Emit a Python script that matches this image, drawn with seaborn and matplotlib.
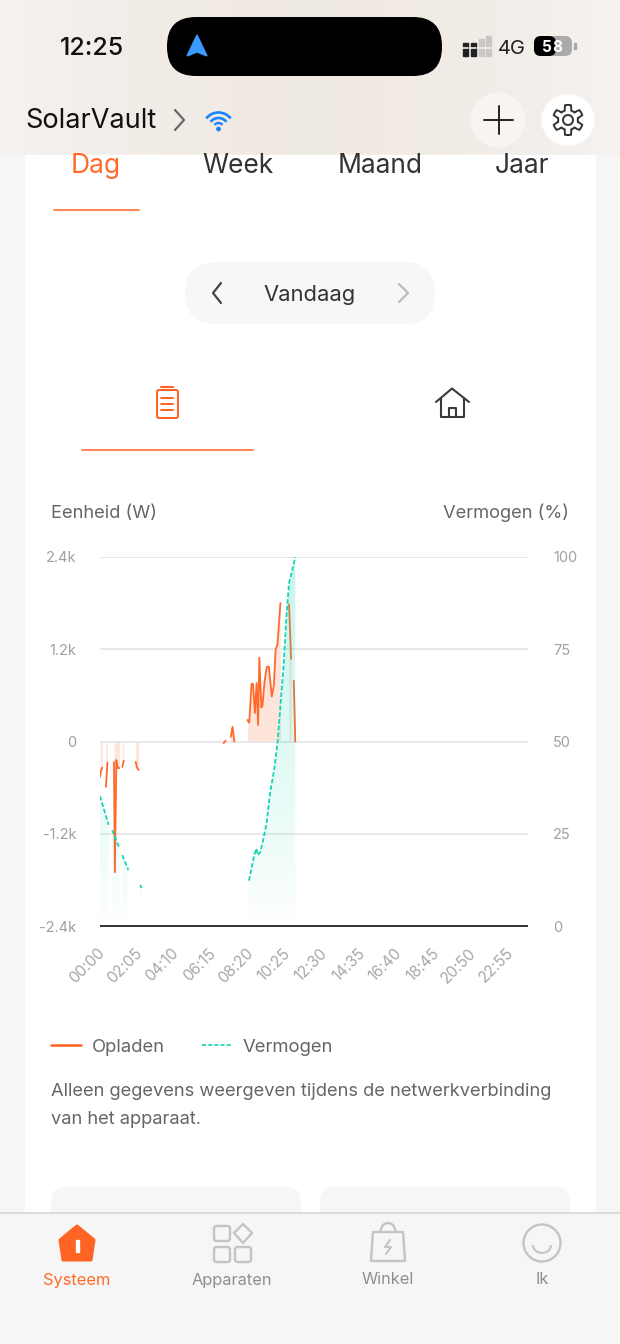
import numpy as np
import pandas as pd
import matplotlib
matplotlib.use("Agg")
import matplotlib.pyplot as plt
from matplotlib.patches import Arc, Circle, Ellipse, FancyBboxPatch, Polygon, Rectangle
from matplotlib.transforms import ScaledTranslation
import seaborn as sns

# orange line, minutes since midnight / watts, one list per unbroken piece
charge_minutes = [
    [0, 4, 8],
    [20, 25],
    [47, 50, 55, 60, 65],
    [75, 80],
    [120, 125, 130],
    [416, 423],
    [440, 446, 452],
    [496, 502, 510, 515, 521, 527, 532, 536, 543, 547, 553, 561, 568, 578, 585, 591, 597, 607],
    [636, 643],
    [652, 657],
]
charge_watts = [
    [-460, -370, -340],
    [-590, -275],
    [-270, -1700, -240, -345, -345],
    [-330, -250],
    [-265, -345, -370],
    [-20, 10],
    [60, 190, 0],
    [280, 245, 750, 750, 370, 760, 215, 1090, 440, 475, 760, 970, 975, 585, 735, 1205, 1255, 1800],
    [1785, 1075],
    [790, 0],
]
# teal line, percent on the right axis
power_minutes = [
    [0, 29],
    [41, 65],
    [75, 95],
    [135, 140],
    [501, 510, 519, 526, 531, 539, 549, 561, 572, 586, 598, 617, 628, 636, 647, 657],
]
power_percent = [
    [35.2, 27.4],
    [26, 21.2],
    [19.2, 15.2],
    [11.1, 10.3],
    [12.3, 15.7, 19.2, 21, 19.2, 20, 23.3, 28.2, 36, 42.3, 50.4, 69.9, 84.8, 93, 96.5, 100],
]
left_ticks = [-2400, -1200, 0, 1200, 2400]
left_labels = ["-2.4k", "-1.2k", "0", "1.2k", "2.4k"]
right_ticks = [0, 25, 50, 75, 100]
time_ticks = [0, 125, 250, 375, 500, 625, 750, 875, 1000, 1125, 1250, 1375]
time_labels = ["00:00", "02:05", "04:10", "06:15", "08:20", "10:25",
               "12:30", "14:35", "16:40", "18:45", "20:50", "22:55"]
tabs = ["Dag", "Week", "Maand", "Jaar"]
nav_items = ["Systeem", "Apparaten", "Winkel", "Ik"]

ORANGE = "#ff6a2b"
TEAL = "#14d6b6"
FONT = "Inter"

sns.set_theme(style="white")
plt.rcParams["font.family"] = [FONT, "DejaVu Sans"]


def long_table(xs, ys, name):
    rows = []
    for i, (x, y) in enumerate(zip(xs, ys)):
        rows.append(pd.DataFrame({"minute": x, name: y, "piece": i}))
    return pd.concat(rows, ignore_index=True)


def round_box(ax, x0, y0, x1, y1, r, **kw):
    ax.add_patch(FancyBboxPatch((x0 + r, y0 + r), x1 - x0 - 2 * r, y1 - y0 - 2 * r,
                                boxstyle=f"round,pad={r},rounding_size={r}", linewidth=kw.pop("lw", 0), **kw))


def draw_page(ax):
    ax.set_xlim(0, 620)
    ax.set_ylim(1344, 0)
    ax.axis("off")
    ax.add_patch(Rectangle((0, 0), 620, 1344, color="#f6f6f6", zorder=0))

    # header tint
    xx = np.linspace(-1, 1, 120)
    shade = np.clip(1 - np.abs(xx) ** 2, 0, 1)[None, :, None]
    tint = np.array([0.96, 0.95, 0.94])[None, None, :] * (1 - shade) + np.array([0.945, 0.918, 0.895])[None, None, :] * shade
    ax.imshow(tint, extent=(0, 620, 155, 0), aspect="auto", zorder=1)
    ax.set_xlim(0, 620)
    ax.set_ylim(1344, 0)

    ax.add_patch(Rectangle((25, 155), 570, 1060, color="white", zorder=1))

    # status bar
    ax.text(92, 48.5, "12:25", fontsize=18, color="#111111", ha="center", va="center", weight="medium")
    round_box(ax, 167, 17, 442, 76, 29, color="black", zorder=2)
    ax.add_patch(Polygon([(197, 35), (207, 56), (197, 52), (187, 56)], closed=True, color="#3a9bff", zorder=3))
    for i, x in enumerate([465, 473, 481, 488]):
        h = [13, 13, 17, 20][i]
        c = "#222222" if i < 2 else "#c9c6c3"
        ax.add_patch(Rectangle((x - 2, 56 - h), 4.5, h, color=c, zorder=3))
        ax.plot([x - 3, x + 3], [48, 48], color="#f3efeb", lw=1.2, zorder=4)
    ax.text(512, 48.5, "4G", fontsize=14.5, color="#222222", ha="center", va="center")
    round_box(ax, 534, 36, 572, 56, 7, color="#aaaaaa", zorder=2)
    round_box(ax, 534, 36, 556, 56, 7, color="black", zorder=3)
    ax.add_patch(Rectangle((574, 43), 1.5, 6, color="#aaaaaa", zorder=3))
    ax.text(547, 47, "5", fontsize=11, color="white", ha="center", va="center", weight="bold", zorder=4)
    ax.text(557, 47, "8", fontsize=11, color="white", ha="center", va="center", weight="bold", zorder=4)

    # title row
    ax.text(25, 121.5, "SolarVault", fontsize=19.5, color="#111111", va="center")
    ax.plot([175, 184, 175], [110, 120, 130], color="#666666", lw=1.6, zorder=3)
    for r, a in [(15.5, 1.9), (10, 1.9), (5, 1.7)]:
        ax.add_patch(Arc((218.5, 128), 2 * r, 2 * r, theta1=218, theta2=322, color="#1a85ff", lw=a, zorder=3))
    ax.add_patch(Circle((218.5, 129), 1.7, color="#1a85ff", zorder=3))
    ax.add_patch(Ellipse((498, 120), 54, 54, color="#f7f4f1", zorder=2))
    ax.add_patch(Ellipse((568, 120), 52, 50, color="white", zorder=2))
    ax.plot([484, 513], [120, 120], color="#222222", lw=1.4, zorder=3)
    ax.plot([498.5, 498.5], [106, 134], color="#222222", lw=1.4, zorder=3)
    angles = np.linspace(0, 2 * np.pi, 97)
    radius = 12.5 + 2.6 * np.clip(3 * np.cos(6 * angles), -1, 1)
    ax.plot(568 + radius * np.sin(angles), 120 + radius * np.cos(angles), color="#333333", lw=1.4, zorder=3)
    ax.add_patch(Circle((568, 120), 5, fill=False, edgecolor="#333333", lw=1.4, zorder=3))

    # period tabs
    for name, x in zip(tabs, [96, 238, 380, 522]):
        ax.text(x, 166, name, fontsize=19, color=ORANGE if name == "Dag" else "#333333", ha="center", va="center")
    ax.plot([54, 139], [210, 210], color="#ff7a45", lw=1.3)
    round_box(ax, 185, 262, 435, 324, 31, color="#f7f7f7", zorder=2)
    ax.text(310, 295, "Vandaag", fontsize=15.8, color="#333333", ha="center", va="center", zorder=3)
    ax.plot([221, 213, 221], [283, 293, 303], color="#444444", lw=1.6, zorder=3)
    ax.plot([399, 408, 399], [284, 293, 302], color="#bbbbbb", lw=1.6, zorder=3)

    # battery and house icons
    round_box(ax, 157, 390, 178, 418, 2, facecolor="none", edgecolor="#ff5f1f", lw=1.4, zorder=3)
    ax.plot([161, 173], [386.5, 386.5], color="#ff5f1f", lw=1.5)
    for y in [398, 404, 410]:
        ax.plot([161, 173], [y, y], color="#ff5f1f", lw=1.4)
    ax.plot([82, 253], [450, 450], color="#ff7a45", lw=1.3)
    ax.plot([436, 452, 469], [402, 388.5, 402], color="#3a3a3a", lw=1.5)
    ax.plot([441, 441, 464, 464], [398, 417, 417, 398], color="#3a3a3a", lw=1.5)
    ax.plot([449, 449, 456, 456], [417, 408, 408, 417], color="#3a3a3a", lw=1.5)

    # chart captions, legend and note
    ax.text(51, 513, "Eenheid (W)", fontsize=13.2, color="#666666", va="center")
    ax.text(569, 513, "Vermogen (%)", fontsize=13.2, color="#666666", va="center", ha="right")
    ax.plot([51, 81], [1045, 1045], color=ORANGE, lw=1.9)
    ax.text(92, 1047, "Opladen", fontsize=13.3, color="#666666", va="center")
    ax.plot([202, 232], [1045, 1045], color=TEAL, lw=1.2, ls=(0, (2.5, 1.2)))
    ax.text(243, 1047, "Vermogen", fontsize=13.3, color="#666666", va="center")
    ax.text(51, 1092, "Alleen gegevens weergeven tijdens de netwerkverbinding", fontsize=13.2, color="#666666", va="center")
    ax.text(51, 1119, "van het apparaat.", fontsize=13.2, color="#666666", va="center")
    round_box(ax, 51, 1187, 301, 1240, 14, color="#f6f6f6", zorder=2)
    round_box(ax, 320, 1187, 570, 1240, 14, color="#f6f6f6", zorder=2)

    # bottom navigation
    ax.add_patch(Rectangle((0, 1213), 620, 131, color="#f7f6f6", zorder=4))
    ax.plot([0, 620], [1213, 1213], color="#d6d6d6", lw=1.2, zorder=5)
    for name, x in zip(nav_items, [77, 232, 388, 542]):
        ax.text(x, 1280, name, fontsize=11.8, color=ORANGE if name == "Systeem" else "#8f8f8f",
                ha="center", va="center", zorder=6)
    ax.add_patch(Polygon([(77, 1226), (94, 1240), (91, 1260), (63, 1260), (60, 1240)], closed=True,
                         facecolor="#ff6422", edgecolor="#ff6422", lw=2.2, joinstyle="round", zorder=6))
    ax.add_patch(Rectangle((75.5, 1240), 3, 12, color="white", zorder=7))
    grey = "#c4c4c4"
    for x, y in [(214, 1226), (214, 1247), (235, 1247)]:
        round_box(ax, x, y, x + 16, y + 15, 2.5, facecolor="none", edgecolor=grey, lw=1.7, zorder=6)
    ax.add_patch(Polygon([(243, 1224), (252, 1233), (243, 1243), (234, 1233)], closed=True, fill=False,
                         edgecolor=grey, lw=1.7, joinstyle="round", zorder=6))
    ax.add_patch(Polygon([(373, 1232), (403, 1232), (405, 1261), (371, 1261)], closed=True, fill=False,
                         edgecolor=grey, lw=1.7, joinstyle="round", zorder=6))
    ax.add_patch(Arc((388, 1232), 15, 18, theta1=180, theta2=360, color=grey, lw=1.7, zorder=6))
    ax.plot([390, 385, 391, 386], [1240, 1247, 1247, 1254], color=grey, lw=1.5, zorder=6)
    ax.add_patch(Ellipse((542, 1243), 37, 37, fill=False, edgecolor=grey, lw=1.7, zorder=6))
    ax.add_patch(Arc((542, 1245), 18, 16, theta1=0, theta2=180, color=grey, lw=1.5, zorder=6))


def draw_chart(fig):
    # pixel box 100..528 x 557..926 of 620x1344
    ax = fig.add_axes([100 / 620, 1 - 926 / 1344, 428 / 620, 369 / 1344])
    ax.patch.set_alpha(0)
    charge = long_table(charge_minutes, charge_watts, "watts")
    power = long_table(power_minutes, power_percent, "percent")

    for x, y in zip(charge_minutes, charge_watts):
        ax.fill_between(x, 0, y, color="#fde5dc", lw=0, zorder=1)
    ax.hlines(left_ticks[1:], 0, 1440, color="#e4e4e4", lw=1.2, zorder=1.5)
    ax.hlines(left_ticks[0], 0, 1440, color="#333333", lw=1.4, zorder=1.5, clip_on=False)
    sns.lineplot(data=charge, x="minute", y="watts", units="piece", estimator=None,
                 color=ORANGE, lw=1.3, ax=ax, zorder=2)
    ax.set_xlim(0, 1440)
    ax.set_ylim(-2400, 2400)
    ax.set_xticks(time_ticks)
    ax.set_xticklabels(time_labels, rotation=45, ha="right", rotation_mode="anchor")
    ax.set_yticks(left_ticks)
    ax.set_yticklabels(left_labels)
    ax.tick_params(axis="x", length=0, pad=14, labelsize=11, labelcolor="#a8a8a8")
    ax.tick_params(axis="y", length=0, pad=17, labelsize=10.5, labelcolor="#a0a0a0")
    shift = ScaledTranslation(-3 / 100, 0, fig.dpi_scale_trans)
    for lab in ax.get_xticklabels():
        lab.set_transform(lab.get_transform() + shift)
    ax.set_xlabel("")
    ax.set_ylabel("")
    sns.despine(ax=ax, left=True, bottom=True)

    ax2 = ax.twinx()
    ax2.patch.set_alpha(0)
    fade = np.zeros((200, 2, 4))
    fade[..., :3] = matplotlib.colors.to_rgb("#1cd6b4")
    fade[..., 3] = (0.24 * np.linspace(0, 1, 200) ** 0.8)[:, None]
    for x, y in zip(power_minutes, power_percent):
        img = ax2.imshow(fade, extent=(0, 1440, 0, 100), origin="lower", aspect="auto", zorder=1)
        shape = ax2.fill_between(x, 0, y, facecolor="none", edgecolor="none")
        img.set_clip_path(shape.get_paths()[0], transform=ax2.transData)
    sns.lineplot(data=power, x="minute", y="percent", units="piece", estimator=None,
                 color=TEAL, lw=1.3, ls=(0, (2.5, 1.2)), ax=ax2, zorder=3)
    ax2.set_xlim(0, 1440)
    ax2.set_ylim(0, 100)
    ax2.set_yticks(right_ticks)
    ax2.tick_params(axis="y", length=0, pad=18, labelsize=10.5, labelcolor="#a0a0a0")
    ax2.set_ylabel("")
    sns.despine(ax=ax2, left=True, bottom=True, right=True)
    ax2.grid(False)
    ax.grid(False)


def main():
    fig = plt.figure(figsize=(6.2, 13.44), dpi=100)
    page = fig.add_axes([0, 0, 1, 1])
    draw_page(page)
    draw_chart(fig)
    fig.savefig("out.png", dpi=100)


if __name__ == "__main__":
    main()
